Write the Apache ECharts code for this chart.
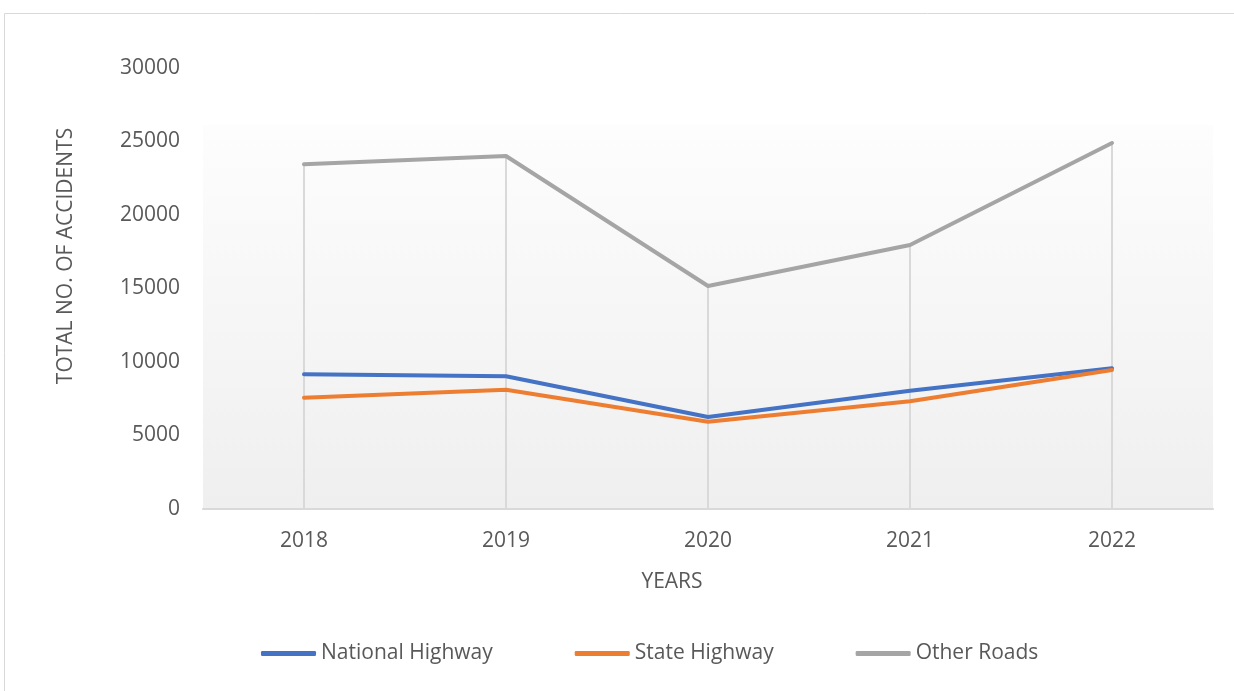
<!DOCTYPE html>
<html>
<head>
<meta charset="utf-8">
<script src="https://cdn.jsdelivr.net/npm/echarts@6/dist/echarts.min.js"></script>
<style>
  html, body { margin: 0; padding: 0; background: #fff; }
  #chart { width: 1234px; height: 691px; }
</style>
</head>
<body>
<div id="chart"></div>
<script>
// data
const years = ["2018", "2019", "2020", "2021", "2022"];
const nationalHighway = [9160, 9030, 6260, 8050, 9570];
const stateHighway = [7570, 8110, 5940, 7330, 9460];
const otherRoads = [23450, 24010, 15170, 17960, 24900];

const textColor = "#595959";
const font = "'Open Sans', 'Liberation Sans', sans-serif";

const chart = echarts.init(document.getElementById("chart"));

// drop lines from the highest series down to the axis
const dropLines = years.map((y, i) => [
  { coord: [i, 0] },
  { coord: [i, Math.max(nationalHighway[i], stateHighway[i], otherRoads[i])] }
]);

chart.setOption({
  animation: false,
  textStyle: { fontFamily: font },
  grid: {
    left: 203,
    right: 21,
    top: 68,
    bottom: 182,
    show: true,
    borderWidth: 0,
    backgroundColor: {
      type: "linear", x: 0, y: 0, x2: 0, y2: 1,
      colorStops: [
        { offset: 0, color: "#ffffff" },
        { offset: 0.128, color: "#ffffff" },
        { offset: 0.13, color: "#fdfdfd" },
        { offset: 1, color: "#efefef" }
      ]
    }
  },
  legend: {
    bottom: 22,
    left: 256,
    icon: "roundRect",
    itemWidth: 55,
    itemHeight: 5,
    itemGap: 82,
    textStyle: { color: textColor, fontSize: 21, fontFamily: font },
    data: ["National Highway", "State Highway", "Other Roads"]
  },
  xAxis: {
    type: "category",
    data: years,
    boundaryGap: true,
    axisLine: { lineStyle: { color: "#d9d9d9", width: 2 } },
    axisTick: { show: false },
    axisLabel: { color: textColor, fontSize: 21, margin: 22 },
    splitLine: { show: false }
  },
  yAxis: {
    type: "value",
    min: 0,
    max: 30000,
    interval: 5000,
    axisLine: { show: false },
    axisTick: { show: false },
    splitLine: { show: false },
    axisLabel: { color: textColor, fontSize: 21, margin: 23, formatter: v => String(v) }
  },
  graphic: [
    {
      type: "rect",
      shape: { x: 4.5, y: 13.5, width: 1260, height: 720 },
      style: { fill: "none", stroke: "#d9d9d9", lineWidth: 1 },
      silent: true
    },
    {
      type: "text",
      x: 672,
      y: 582,
      style: {
        text: "YEARS",
        fill: textColor,
        font: "21px " + font,
        textAlign: "center",
        textVerticalAlign: "middle"
      }
    },
    {
      type: "text",
      x: 66,
      y: 256,
      rotation: Math.PI / 2,
      style: {
        text: "TOTAL NO. OF ACCIDENTS",
        fill: textColor,
        font: "21px " + font,
        textAlign: "center",
        textVerticalAlign: "middle"
      }
    }
  ],
  series: [
    {
      name: "Other Roads",
      type: "line",
      data: otherRoads,
      symbol: "none",
      z: 3,
      lineStyle: { color: "#A5A5A5", width: 4, cap: "round", join: "round" },
      itemStyle: { color: "#A5A5A5" },
      markLine: {
        silent: true,
        symbol: "none",
        label: { show: false },
        lineStyle: { color: "#d9d9d9", width: 2, type: "solid" },
        z: 1,
        data: dropLines
      }
    },
    {
      name: "State Highway",
      type: "line",
      data: stateHighway,
      symbol: "none",
      z: 4,
      lineStyle: { color: "#ED7D31", width: 4, cap: "round", join: "round" },
      itemStyle: { color: "#ED7D31" }
    },
    {
      name: "National Highway",
      type: "line",
      data: nationalHighway,
      symbol: "none",
      z: 3,
      lineStyle: { color: "#4472C4", width: 4, cap: "round", join: "round" },
      itemStyle: { color: "#4472C4" }
    }
  ]
});
</script>
</body>
</html>
